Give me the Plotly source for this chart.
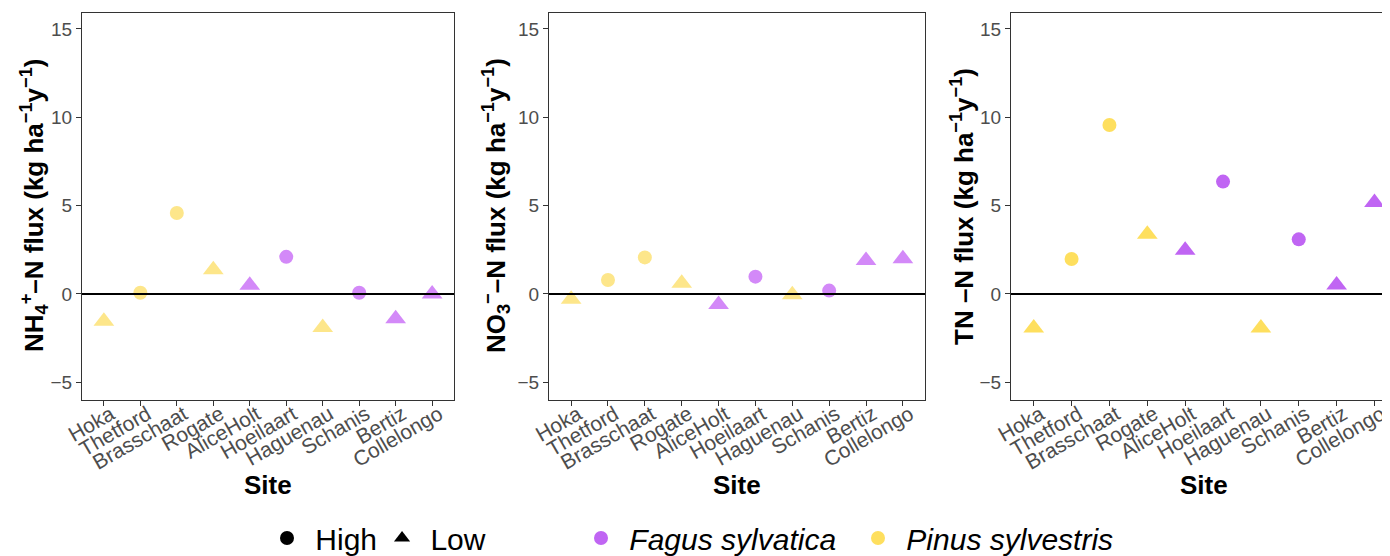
import plotly.graph_objects as go

# The page body adds an 8px margin; lay out in reference pixels and shift.
OFF = 8
REF_W, REF_H = 1390, 556
W, H = REF_W - OFF, REF_H - OFF


def px(x):
    return (x - OFF) / W


def py(y):
    return 1 - (y - OFF) / H


sites = ["Hoka", "Thetford", "Brasschaat", "Rogate", "AliceHolt", "Hoeilaart",
         "Haguenau", "Schanis", "Bertiz", "Collelongo"]
species = ["Pinus sylvestris", "Pinus sylvestris", "Pinus sylvestris", "Pinus sylvestris",
           "Fagus sylvatica", "Fagus sylvatica", "Pinus sylvestris", "Fagus sylvatica",
           "Fagus sylvatica", "Fagus sylvatica"]
deposition = ["Low", "High", "High", "Low", "Low", "High", "Low", "High", "Low", "Low"]

nh4_flux = [-1.55, 0.07, 4.58, 1.37, 0.49, 2.1, -1.9, 0.07, -1.4, 0.0]
no3_flux = [-0.3, 0.79, 2.07, 0.6, -0.6, 0.98, -0.05, 0.19, 1.9, 2.0]
tn_flux = [-1.92, 1.98, 9.56, 3.38, 2.47, 6.36, -1.92, 3.09, 0.51, 5.17]

y_ticks = [-5, 0, 5, 10, 15]
y_tick_labels = ["−5", "0", "5", "10", "15"]

titles = [
    "<b>NH<sub>4</sub><sup>+</sup>–N flux (kg ha<sup>−1</sup>y<sup>−1</sup>)</b>",
    "<b>NO<sub>3</sub><sup>−</sup>–N flux (kg ha<sup>−1</sup>y<sup>−1</sup>)</b>",
    "<b>TN –N flux (kg ha<sup>−1</sup>y<sup>−1</sup>)</b>",
]

light_cols = {"Fagus sylvatica": "#D389F8", "Pinus sylvestris": "#FDE68A"}
dark_cols = {"Fagus sylvatica": "#C065F3", "Pinus sylvestris": "#FEDF5E"}
symbols = {"High": "circle", "Low": "triangle-up"}
sizes = {"High": 14, "Low": 18}

panels = [
    dict(vals=nh4_flux, dom=(82, 454), xr=[-0.6, 9.6], cols=light_cols, tx=34, cx=268),
    dict(vals=no3_flux, dom=(549, 925), xr=[-0.6, 9.6], cols=light_cols, tx=496, cx=737),
    dict(vals=tn_flux, dom=(1011, 1390), xr=[-0.6, 9.41], cols=dark_cols, tx=962, cx=1204),
]

y_top, y_bot = 13, 400
ydom = [py(y_bot), py(y_top)]

fig = go.Figure()
annotations = []
shapes = []
FONT = "Liberation Sans, Arial, sans-serif"
tickfont = dict(family=FONT, size=19, color="#4d4d4d")
xtickfont = dict(family=FONT, size=21, color="#4d4d4d")

for i, p in enumerate(panels):
    n = "" if i == 0 else str(i + 1)
    xa, ya = "x" + n, "y" + n
    for dep in ["High", "Low"]:
        for sp in ["Fagus sylvatica", "Pinus sylvestris"]:
            xs = [s for s, d, q in zip(sites, deposition, species) if d == dep and q == sp]
            ys = [v for v, d, q in zip(p["vals"], deposition, species) if d == dep and q == sp]
            fig.add_trace(go.Scatter(
                x=xs, y=ys, mode="markers", xaxis=xa, yaxis=ya, showlegend=False,
                marker=dict(symbol=symbols[dep], size=sizes[dep], color=p["cols"][sp],
                            line=dict(width=0)),
            ))
    axkw = dict(showline=True, linecolor="#333333", linewidth=1, mirror=True,
                ticks="outside", ticklen=5, tickcolor="#333333", showgrid=False,
                zeroline=False, automargin=False)
    fig.update_layout(**{
        "xaxis" + n: dict(domain=[px(p["dom"][0]), min(1, px(p["dom"][1]))], anchor=ya,
                          type="category", categoryorder="array", categoryarray=sites,
                          range=p["xr"], tickangle=-30, tickfont=xtickfont,
                          ticklabelstandoff=-12, ticklabelshift=7, **axkw),
        "yaxis" + n: dict(domain=ydom, anchor=xa, range=[-6.0, 15.9], tickfont=tickfont,
                          tickvals=y_ticks, ticktext=y_tick_labels, **axkw),
    })
    shapes.append(dict(type="line", xref=xa + " domain", yref=ya, x0=0, x1=1, y0=0, y1=0,
                       line=dict(color="black", width=2), layer="above"))
    annotations.append(dict(text="<b>Site</b>", x=px(p["cx"]), y=py(485), xref="paper", yref="paper",
                            showarrow=False, xanchor="center", yanchor="middle",
                            font=dict(family=FONT, size=26, color="black")))
    annotations.append(dict(text=titles[i], x=px(p["tx"]), y=py(206), xref="paper", yref="paper",
                            showarrow=False, xanchor="center", yanchor="middle", textangle=-90,
                            font=dict(family=FONT, size=26, color="black")))

# legend entries
for dep in ["High", "Low"]:
    fig.add_trace(go.Scatter(x=[None], y=[None], mode="markers", name=" " + dep, legend="legend",
                             marker=dict(symbol=symbols[dep], size=14, color="black")))
for sp in ["Fagus sylvatica", "Pinus sylvestris"]:
    fig.add_trace(go.Scatter(x=[None], y=[None], mode="markers", name=" <i>" + sp + "</i>",
                             legend="legend2",
                             marker=dict(symbol="circle", size=14, color=dark_cols[sp])))

legfont = dict(family=FONT, size=30, color="black")
fig.update_layout(
    width=W, height=H, margin=dict(l=0, r=0, t=0, b=0, autoexpand=False),
    paper_bgcolor="white", plot_bgcolor="white",
    shapes=shapes, annotations=annotations,
    legend=dict(orientation="h", xref="container", yref="container",
                x=px(267), y=py(538), xanchor="left", yanchor="middle",
                font=legfont, bgcolor="rgba(0,0,0,0)", itemclick=False),
    legend2=dict(orientation="h", xref="container", yref="container",
                 x=px(581), y=py(538), xanchor="left", yanchor="middle",
                 font=legfont, bgcolor="rgba(0,0,0,0)", itemclick=False,
                 entrywidth=232),
)

fig.write_html("out.html")
